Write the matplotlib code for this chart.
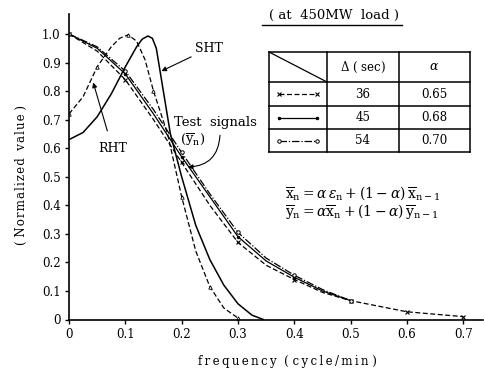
import matplotlib
matplotlib.use('Agg')
import matplotlib.pyplot as plt
from matplotlib.lines import Line2D

plt.rcParams['font.family'] = ['DejaVu Serif']
plt.rcParams['mathtext.fontset'] = 'dejavuserif'

# --- data ---
# test signals (y_n), three filter settings
freq_test = [0, 0.05, 0.1, 0.15, 0.2, 0.25, 0.3, 0.35, 0.4, 0.45, 0.5, 0.6, 0.7]
test_36 = [1.0, 0.94, 0.84, 0.70, 0.55, 0.40, 0.27, 0.19, 0.14, 0.095, 0.066, 0.027, 0.01]
freq_short = [0, 0.05, 0.1, 0.15, 0.2, 0.25, 0.3, 0.35, 0.4, 0.45, 0.5]
test_45 = [1.0, 0.95, 0.86, 0.72, 0.57, 0.43, 0.29, 0.205, 0.148, 0.10, 0.066]
test_54 = [1.0, 0.955, 0.87, 0.735, 0.585, 0.44, 0.305, 0.215, 0.155, 0.105, 0.066]

# RHT response
freq_rht = [0, 0.025, 0.05, 0.075, 0.09, 0.105, 0.12, 0.135, 0.15, 0.175, 0.2,
            0.225, 0.25, 0.275, 0.3]
rht = [0.72, 0.78, 0.885, 0.955, 0.985, 0.997, 0.975, 0.91, 0.80, 0.65, 0.43,
       0.24, 0.115, 0.04, 0.005]

# SHT response
freq_sht = [0, 0.025, 0.05, 0.075, 0.1, 0.12, 0.13, 0.14, 0.148, 0.155, 0.165,
            0.18, 0.2, 0.225, 0.25, 0.275, 0.3, 0.325, 0.345]
sht = [0.63, 0.655, 0.71, 0.79, 0.885, 0.955, 0.982, 0.993, 0.985, 0.95, 0.83,
       0.65, 0.50, 0.33, 0.21, 0.12, 0.055, 0.015, 0.0]

delta_sec = ['36', '45', '54']
alpha = ['0.65', '0.68', '0.70']

xticks = [0, 0.1, 0.2, 0.3, 0.4, 0.5, 0.6, 0.7]
xtick_labels = ['0', '0.1', '0.2', '0.3', '0.4', '0.5', '0.6', '0.7']
yticks = [0, 0.1, 0.2, 0.3, 0.4, 0.5, 0.6, 0.7, 0.8, 0.9, 1.0]
ytick_labels = ['0', '0.1', '0.2', '0.3', '0.4', '0.5', '0.6', '0.7', '0.8', '0.9', '1.0']

W, H = 484, 375
fig = plt.figure(figsize=(W / 100, H / 100), dpi=100)
ax = fig.add_axes([69 / W, 1 - 319.5 / H, 414 / W, 305.5 / H])

lw = 0.9
styles = {
    '36': dict(color='black', lw=lw, ls=(0, (4, 2)), marker='x', ms=3.5, mew=0.8),
    '45': dict(color='black', lw=lw, ls='-', marker='.', ms=3),
    '54': dict(color='black', lw=lw, ls=(0, (6, 1.5, 1, 1.5)), marker='o', ms=2.5,
               mfc='white', mew=0.7),
}


def every_tenth(xs):
    return [i for i, x in enumerate(xs) if abs(x * 10 - round(x * 10)) < 1e-6]


ax.plot(freq_test, test_36, markevery=every_tenth(freq_test), **styles['36'])
ax.plot(freq_short, test_45, markevery=every_tenth(freq_short), **styles['45'])
ax.plot(freq_short, test_54, markevery=every_tenth(freq_short), **styles['54'])

rht_marks = [freq_rht.index(f) for f in [0, 0.05, 0.105, 0.15, 0.2, 0.25, 0.3]]
ax.plot(freq_rht, rht, color='black', lw=lw, ls=(0, (4, 2)), marker='^', ms=2.5,
        mfc='white', mew=0.6, markevery=rht_marks)
ax.plot(freq_sht, sht, color='black', lw=lw + 0.2, ls='-')

ax.set_xlim(0, 0.735)
ax.set_ylim(0, 1.07)
ax.set_xticks(xticks)
ax.set_xticklabels(xtick_labels)
ax.set_yticks(yticks)
ax.set_yticklabels(ytick_labels)
for s in ['top', 'right']:
    ax.spines[s].set_visible(False)
for s in ['left', 'bottom']:
    ax.spines[s].set_linewidth(1.2)
ax.tick_params(direction='out', length=3, width=1, labelsize=8.5, pad=3)

# annotations
ax.annotate('SHT', xy=(0.164, 0.87), xytext=(0.224, 0.95), fontsize=9,
            va='center', ha='left',
            arrowprops=dict(arrowstyle='-|>', color='black', lw=0.8,
                            mutation_scale=7, shrinkA=1, shrinkB=0))
ax.annotate('RHT', xy=(0.043, 0.83), xytext=(0.077, 0.60), fontsize=9,
            va='center', ha='center',
            arrowprops=dict(arrowstyle='-|>', color='black', lw=0.8,
                            mutation_scale=7, shrinkA=6, shrinkB=0))
ax.text(0.186, 0.69, 'Test  signals', fontsize=9.5, va='center', ha='left')
ax.text(0.197, 0.63, r'($\overline{\mathrm{y}}_\mathrm{n}$)', fontsize=9.5,
        va='center', ha='left')
ax.annotate('', xy=(0.211, 0.534), xytext=(0.268, 0.645),
            arrowprops=dict(arrowstyle='-|>', color='black', lw=0.8,
                            mutation_scale=7, shrinkA=0, shrinkB=0,
                            connectionstyle='arc3,rad=-0.45'))

# title and axis labels
fig.text(334 / W, 1 - 15 / H, '( at  450MW  load )', fontsize=9.5,
         ha='center', va='center')
fig.add_artist(Line2D([262 / W, 402 / W], [1 - 25 / H, 1 - 25 / H],
                      color='black', lw=1))
xlab = '\u2009'.join('frequency') + '  ( ' + '\u2009'.join('cycle/min') + ' )'
fig.text(287 / W, 1 - 362 / H, xlab, fontsize=8.5, ha='center', va='center')
ylab = '( ' + '\u200a'.join('Normalized') + '  ' + '\u200a'.join('value') + ' )'
fig.text(21 / W, 1 - 175 / H, ylab, fontsize=8.5,
         ha='center', va='center', rotation=90)

# formulas
fig.text(285 / W, 1 - 193 / H,
         r'$\overline{\mathrm{x}}_\mathrm{n}=\alpha\,\epsilon_\mathrm{n}+(1-\alpha)\,\overline{\mathrm{x}}_\mathrm{n-1}$',
         fontsize=10, ha='left', va='center')
fig.text(285 / W, 1 - 212 / H,
         r'$\overline{\mathrm{y}}_\mathrm{n}=\alpha\overline{\mathrm{x}}_\mathrm{n}+(1-\alpha)\,\overline{\mathrm{y}}_\mathrm{n-1}$',
         fontsize=10, ha='left', va='center')

# table with line samples
tx0, tx1, ty0, ty1 = 269, 470, 52, 152
tab = fig.add_axes([tx0 / W, 1 - ty1 / H, (tx1 - tx0) / W, (ty1 - ty0) / H])
tab.set_xlim(tx0, tx1)
tab.set_ylim(ty1, ty0)
tab.axis('off')
cols = [269, 327, 399, 470]
rows = [52, 82, 106, 129, 152]
for c in cols:
    tab.plot([c, c], [rows[0], rows[-1]], color='black', lw=1.1, clip_on=False)
for r in rows:
    tab.plot([cols[0], cols[-1]], [r, r], color='black', lw=1.1, clip_on=False)
tab.plot([cols[0], cols[1]], [rows[0], rows[1]], color='black', lw=0.9)
hy = (rows[0] + rows[1]) / 2
tab.text((cols[1] + cols[2]) / 2, hy, r'$\Delta$ ( sec)', fontsize=8.5,
         ha='center', va='center')
tab.text((cols[2] + cols[3]) / 2, hy, r'$\alpha$', fontsize=9,
         ha='center', va='center')
for i, key in enumerate(delta_sec):
    ry = (rows[i + 1] + rows[i + 2]) / 2
    tab.plot([cols[0] + 10, cols[1] - 10], [ry, ry], markevery=[0, 1], **styles[key])
    tab.text((cols[1] + cols[2]) / 2, ry, key, fontsize=8.5, ha='center', va='center')
    tab.text((cols[2] + cols[3]) / 2, ry, alpha[i], fontsize=8.5, ha='center', va='center')

fig.savefig('out.png', dpi=100)
